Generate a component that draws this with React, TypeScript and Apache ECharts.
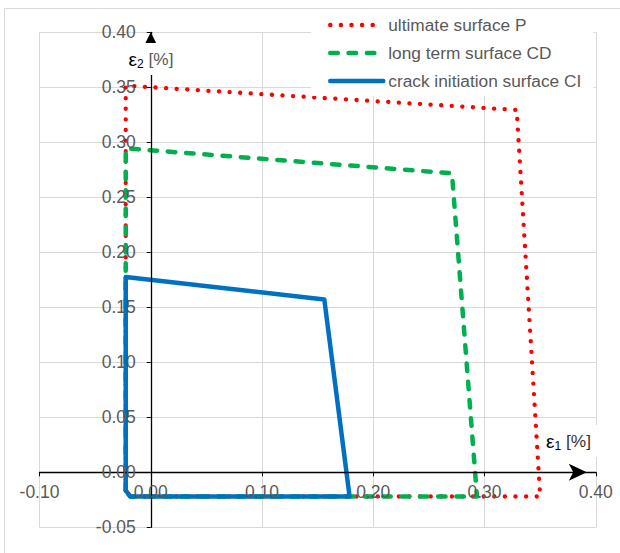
import React, { useEffect, useRef } from "react";
import * as echarts from "echarts";

// axis ranges / tick steps
const xMin = -0.1;
const xMax = 0.4;
const xStep = 0.1;
const yMin = -0.05;
const yMax = 0.4;
const yStep = 0.05;

const seriesNames = ["ultimate surface P", "long term surface CD", "crack initiation surface CI"];
const seriesColors = ["#ff0000", "#00b050", "#0070c0"];

// [ε1, ε2] points (%)
const ultimateP = [
  [-0.0225, -0.0165],
  [-0.0225, 0.3515],
  [0.3289, 0.3294],
  [0.35, -0.022],
  [-0.0185, -0.022],
  [-0.0225, -0.0165],
];
const longTermCD = [
  [-0.0225, -0.0165],
  [-0.0225, 0.2945],
  [0.2707, 0.2718],
  [0.2932, -0.022],
  [-0.0185, -0.022],
  [-0.0225, -0.0165],
];
const crackCI = [
  [-0.0225, -0.0165],
  [-0.0225, 0.1775],
  [0.156, 0.1571],
  [0.1787, -0.022],
  [-0.0185, -0.022],
  [-0.0225, -0.0165],
];

const FONT = "'Liberation Sans', Arial, sans-serif";
const LABEL_GRAY = "#595959";

const W = 620;
const H = 553;
const GRID = { left: 39.5, right: 24.2, top: 32.3, bottom: 25.7 };

export default function App() {
  const ref = useRef<HTMLDivElement>(null);
  useEffect(() => {
    document.body.style.margin = "0";
    if (!ref.current) return;
    const chart = echarts.init(ref.current, undefined, { renderer: "svg" });
    const fmt = (v: number) => v.toFixed(2);
    const gw = W - GRID.left - GRID.right;
    const gh = H - GRID.top - GRID.bottom;
    // offsets that bring the display axes onto the zero lines
    const yAxisOffset = -((0 - xMin) / (xMax - xMin)) * gw;
    const xAxisOffset = -((0 - yMin) / (yMax - yMin)) * gh;
    const gridAxisCommon = {
      type: "value",
      axisLine: { show: false },
      axisTick: { show: false },
      axisLabel: { show: false },
      splitLine: { show: true, lineStyle: { color: "#d9d9d9", width: 1 } },
      z: 0,
    };
    const option: any = {
      animation: false,
      backgroundColor: "#fff",
      grid: { ...GRID, containLabel: false, outerBoundsMode: "none" },
      legend: {
        orient: "vertical",
        left: 311,
        top: 9,
        padding: [6, 12, 5, 17],
        backgroundColor: "#fff",
        itemWidth: 53,
        itemHeight: 14,
        itemGap: 8,
        itemStyle: { opacity: 0, color: "rgba(0,0,0,0)", borderColor: "rgba(0,0,0,0)", borderWidth: 0 },
        lineStyle: { width: 4.5 },
        textStyle: { fontFamily: FONT, fontSize: 17.3, color: LABEL_GRAY, lineHeight: 20 },
        data: seriesNames,
        z: 5,
      },
      xAxis: [
        { ...gridAxisCommon, min: xMin, max: xMax, interval: xStep, position: "bottom" },
        {
          type: "value",
          min: xMin,
          max: xMax,
          interval: xStep,
          position: "bottom",
          offset: xAxisOffset,
          z: 3,
          splitLine: { show: false },
          axisLine: {
            show: true,
            onZero: false,
            lineStyle: { color: "#000", width: 1.3 },
            symbol: ["none", "arrow"],
            symbolSize: [12.75, 18],
            symbolOffset: [0, -9],
          },
          axisTick: { show: true, length: 4, lineStyle: { color: "#000", width: 1 } },
          axisLabel: {
            show: true,
            margin: 11,
            formatter: fmt,
            fontFamily: FONT,
            fontSize: 17.5,
            color: LABEL_GRAY,
          },
        },
      ],
      yAxis: [
        { ...gridAxisCommon, min: yMin, max: yMax, interval: yStep, position: "left" },
        {
          type: "value",
          min: yMin,
          max: yMax,
          interval: yStep,
          position: "left",
          offset: yAxisOffset,
          z: 3,
          splitLine: { show: false },
          axisLine: {
            show: true,
            onZero: false,
            lineStyle: { color: "#000", width: 1.3 },
            symbol: ["none", "triangle"],
            symbolSize: [12, 12],
            symbolOffset: [0, -6],
          },
          axisTick: { show: true, length: 4, lineStyle: { color: "#000", width: 1 } },
          axisLabel: {
            show: true,
            margin: 15,
            formatter: fmt,
            fontFamily: FONT,
            fontSize: 17.5,
            color: LABEL_GRAY,
          },
        },
      ],
      series: [
        {
          name: seriesNames[0],
          type: "line",
          xAxisIndex: 0,
          yAxisIndex: 0,
          data: ultimateP,
          showSymbol: false,
          symbol: "none",
          color: seriesColors[0],
          lineStyle: { color: seriesColors[0], width: 4.3, type: [0.1, 10.5], cap: "round", join: "round" },
          z: 2,
        },
        {
          name: seriesNames[1],
          type: "line",
          xAxisIndex: 0,
          yAxisIndex: 0,
          data: longTermCD,
          showSymbol: false,
          symbol: "none",
          color: seriesColors[1],
          lineStyle: { color: seriesColors[1], width: 4.5, type: [7.5, 10.8], cap: "round", join: "round" },
          z: 2,
        },
        {
          name: seriesNames[2],
          type: "line",
          xAxisIndex: 0,
          yAxisIndex: 0,
          data: crackCI,
          showSymbol: false,
          symbol: "none",
          color: seriesColors[2],
          lineStyle: { color: seriesColors[2], width: 4.5, type: "solid", cap: "round", join: "round" },
          z: 2,
        },
      ],
      graphic: [
        {
          type: "rect",
          z: 0,
          silent: true,
          shape: { x: 4.5, y: 8.5, width: 1000, height: 1000 },
          style: { fill: "none", stroke: "#d9d9d9", lineWidth: 1 },
        },
        {
          type: "text",
          z: 100,
          x: 151,
          y: 59,
          style: {
            text: "{e|ε}{s|2}{u| [%]}",
            align: "center",
            verticalAlign: "middle",
            backgroundColor: "#fff",
            padding: [5, 3, 5, 3],
            rich: {
              e: { fontFamily: FONT, fontSize: 19, fill: "#000", lineHeight: 22 },
              s: { fontFamily: FONT, fontSize: 12, fill: "#000", lineHeight: 14, verticalAlign: "bottom" },
              u: { fontFamily: FONT, fontSize: 17.3, fill: LABEL_GRAY, lineHeight: 22 },
            },
          },
        },
        {
          type: "text",
          z: 100,
          x: 570,
          y: 441,
          style: {
            text: "{e|ε}{s|1}{u| [%]}",
            align: "center",
            verticalAlign: "middle",
            backgroundColor: "#fff",
            padding: [5, 6, 5, 3],
            rich: {
              e: { fontFamily: FONT, fontSize: 19, fill: "#000", lineHeight: 22 },
              s: { fontFamily: FONT, fontSize: 12, fill: "#000", lineHeight: 14, verticalAlign: "bottom" },
              u: { fontFamily: FONT, fontSize: 17.3, fill: "#333", lineHeight: 22 },
            },
          },
        },
      ],
    };
    chart.setOption(option);
    return () => chart.dispose();
  }, []);
  return <div ref={ref} style={{ width: W, height: H }} />;
}
